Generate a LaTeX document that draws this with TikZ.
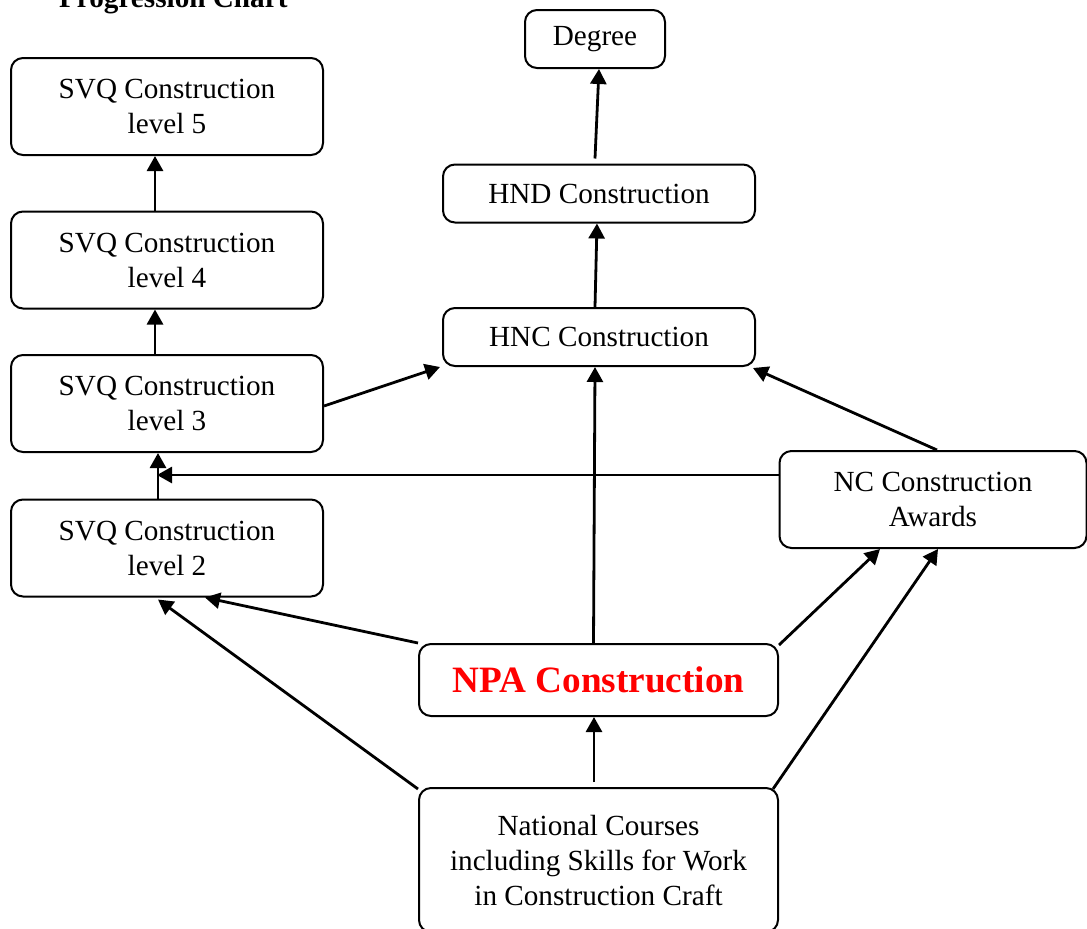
\documentclass[tikz,border=0pt]{standalone}
\usepackage{fontspec}
\setmainfont{Liberation Serif}
\usetikzlibrary{arrows.meta}
\usetikzlibrary{calc}

\tikzset{
  box/.style={draw, line width=1pt, rounded corners=6pt, align=center, inner sep=0pt,
    font=\fontsize{14.6}{17.5}\selectfont},
  svqbox/.style={box, minimum width=156pt, minimum height=48.5pt},
  hbox/.style={box, minimum width=156pt, minimum height=29pt},
  arr/.style={-{Triangle[length=7.5pt,width=8pt]}, line width=1.4pt}
}

\begin{document}
\begin{tikzpicture}[x=0.5pt,y=-0.5pt]
      \useasboundingbox (0,0) rectangle (1087,928);

      \node[anchor=base west,font=\fontsize{14.6}{17.5}\selectfont\bfseries] (title) at (52,7) {Progression Chart};

      \node[box, minimum width=70pt, minimum height=29pt] (degree) at (595,39) {Degree};
      \node[svqbox] (svq5) at (167,106.5) {SVQ Construction\\level 5};
      \node[svqbox] (svq4) at (167,260) {SVQ Construction\\level 4};
      \node[svqbox] (svq3) at (167,403.5) {SVQ Construction\\level 3};
      \node[svqbox] (svq2) at (167,548) {SVQ Construction\\level 2};
      \node[hbox] (hnd) at (599,193.5) {HND Construction};
      \node[hbox] (hnc) at (599,337) {HNC Construction};
      \node[box, minimum width=153.5pt, minimum height=48.5pt] (nc) at (933,499.5) {NC Construction\\Awards};
      \node[box, minimum width=179.5pt, minimum height=36pt, text=red,
        font=\fontsize{18.6}{22}\selectfont\bfseries] (npa) at (598.5,680) {NPA Construction};
      \node[box, minimum width=179.5pt, minimum height=72pt] (nat) at (598.5,860)
        {National Courses\\including Skills for Work\\in Construction Craft};
      \coordinate (join) at (157,475);

      \draw[arr] ($(svq4.north)+(-12,0)$) -- ($(svq5.south)+(-12,0)$);
      \draw[arr] ($(svq3.north)+(-12,0)$) -- ($(svq4.south)+(-12,0)$);
      \draw[arr] ($(svq2.north)+(-9,0)$) -- ($(svq3.south)+(-9,0)$);
      \draw[arr] ($(nc.west)+(0,-24.5)$) -- (join);
      \draw[arr] ($(svq3.east)+(0,2.5)$) -- ($(hnc.south west)+(-2,0)$);
      \draw[arr] ($(nc.north)+(4,0)$) -- ($(hnc.south east)+(-3,1)$);
      \draw[arr] ($(npa.north)+(-5,0)$) -- ($(hnc.south)+(-4,0)$);
      \draw[arr] ($(hnc.north)+(-4,0)$) -- ($(hnd.south)+(-2,0)$);
      \draw[arr] ($(hnd.north)+(-4,-5)$) -- ($(degree.south)+(4,0)$);

      \draw[arr] ($(npa.north west)+(0,0)$) -- ($(svq2.south)+(38,0)$);
      \draw[arr] ($(nat.north west)+(0,2)$) -- ($(svq2.south)+(-9,2)$);
      \draw[arr] ($(nat.north)+(-4.5,-5)$) -- ($(npa.south)+(-4.5,0)$);
      \draw[arr] ($(npa.north east)+(0,2)$) -- ($(nc.south)+(-53,0)$);
      \draw[arr] ($(nat.north east)+(-6,2)$) -- ($(nc.south)+(5,0)$);
    \end{tikzpicture}
\end{document}
